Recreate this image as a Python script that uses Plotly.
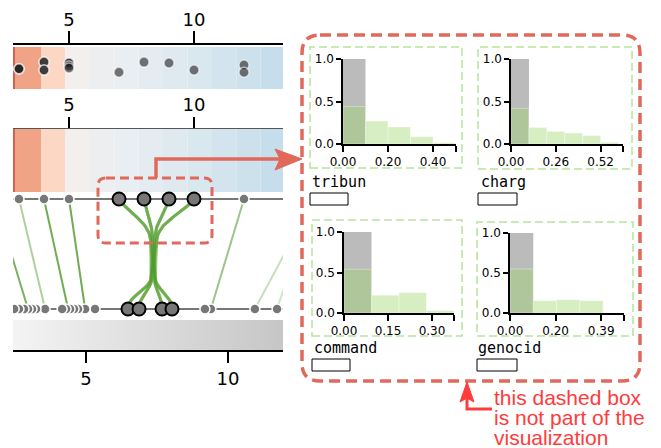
import numpy as np
import plotly.graph_objects as go

W, H = 661, 448

# ------------------------------------------------------------------ data
top_ticks = [5, 10]
bottom_ticks = [5, 10]
top_range = [2.76, 13.56]
bottom_range = [2.43, 11.94]

strip_edges = [2.76, 2.84, 3.88, 4.84, 5.80, 6.82, 7.78, 8.76, 9.74, 10.72, 11.70, 12.66, 13.56]
strip_colors = ['#d6604d', '#f0a385', '#fcd7c4', '#f3efed', '#edeef0', '#e9eef2',
                '#e4ecf1', '#dfe9f0', '#d9e7ef', '#d3e4ee', '#cde1ec', '#c6deeb']

strip_dot_values = [3, 3, 3, 4, 4, 4, 4, 5, 5, 5, 5, 7, 8, 9, 10, 12, 12]
strip_dot_jitter = [0.52, 0.52, 0.52, 0.36, 0.36, 0.55, 0.55, 0.38, 0.38, 0.45, 0.5,
                    0.6, 0.36, 0.38, 0.55, 0.43, 0.6]

top_nodes_small = [3, 4, 5, 12]
top_nodes_sel = [7, 8, 9, 10]
bottom_nodes_small = [2.47, 2.64, 2.82, 2.96, 3.10, 3.24, 3.56, 4.16, 4.30, 4.44, 4.58,
                      4.72, 4.97, 5.32, 9.19, 9.40, 10.95, 11.73]
bottom_nodes_sel = [6.48, 6.87, 7.68, 8.03]

link_top = [2.02, 3, 4, 5, 12, 14.8, 14.8]
link_bottom = [2.96, 3.56, 4.37, 4.97, 9.40, 10.95, 11.73]
link_weight = [0.75, 0.45, 0.8, 0.8, 0.55, 0.3, 0.25]

hist_words = ['tribun', 'charg', 'command', 'genocid']
hist_xmax = [0.50, 0.65, 0.38, 0.49]
hist_edges = [[0, 0.1, 0.2, 0.3, 0.4, 0.5],
              [0, 0.104, 0.208, 0.312, 0.416, 0.52, 0.624],
              [0, 0.095, 0.19, 0.285, 0.38],
              [0, 0.1, 0.2, 0.3, 0.4]]
hist_sel = [[0.44, 0.27, 0.20, 0.086, 0.016],
            [0.42, 0.195, 0.148, 0.129, 0.098, 0.02],
            [0.54, 0.22, 0.25, 0.03],
            [0.55, 0.154, 0.167, 0.154]]
hist_all = [[1.0], [1.0], [1.0], [1.0]]

note_lines = ['this dashed box', 'is not part of the', 'visualization']

# ------------------------------------------------------------------ geometry (px)
L, R = 13, 283
AX1_Y, AX2_Y, AX3_Y = 44, 128, 351
STRIPS = [(47, 89), (129, 192)]
TOP_ROW, BOT_ROW = 199, 309
GRAD = (320, 350)

hist_boxes = [(343, 455.5, 59, 144), (511, 623, 59, 144), (344, 454, 232, 313), (510, 624, 233, 313)]
green_boxes = [(310, 47, 462, 168), (478, 47, 632, 169), (312, 220, 462, 336), (477, 222, 633, 336)]
label_pos = [(310, 182), (479, 182), (312, 348), (476, 348)]
label_rects = [(310, 193, 348, 205), (478, 193, 517, 205), (312, 359, 350, 371), (477, 359, 517, 371)]

RED = '#e0695b'
BRIGHT = '#ff3b3b'
GREEN = (77, 150, 40)


def px(x):
    return x / W


def py(y):
    return 1 - y / H


def b2t(b):
    return top_range[0] + (b - bottom_range[0]) * (top_range[1] - top_range[0]) / (bottom_range[1] - bottom_range[0])


def cubic(p0, p1, p2, p3, n=30):
    t = np.linspace(0, 1, n)[:, None]
    p0, p1, p2, p3 = map(np.array, (p0, p1, p2, p3))
    return (1 - t) ** 3 * p0 + 3 * (1 - t) ** 2 * t * p1 + 3 * (1 - t) * t ** 2 * p2 + t ** 3 * p3


def rrect_path(x0, y0, x1, y1, r):
    P = lambda x, y: f'{px(x):.5f},{py(y):.5f}'
    return (f'M{P(x0 + r, y0)} L{P(x1 - r, y0)} Q{P(x1, y0)} {P(x1, y0 + r)} '
            f'L{P(x1, y1 - r)} Q{P(x1, y1)} {P(x1 - r, y1)} L{P(x0 + r, y1)} '
            f'Q{P(x0, y1)} {P(x0, y1 - r)} L{P(x0, y0 + r)} Q{P(x0, y0)} {P(x0 + r, y0)} Z')


fig = go.Figure()
shapes = []
annotations = []

# colour strips
for (y0, y1) in STRIPS:
    for i, c in enumerate(strip_colors):
        shapes.append(dict(type='rect', xref='x', yref='y', x0=strip_edges[i], x1=strip_edges[i + 1],
                           y0=y0, y1=y1, fillcolor=c, line_width=0, layer='below'))

# grey gradient bar on bottom axis
fig.add_trace(go.Scatter(x=[bottom_range[0], bottom_range[1], bottom_range[1], bottom_range[0], bottom_range[0]],
                         y=[GRAD[0], GRAD[0], GRAD[1], GRAD[1], GRAD[0]], xaxis='x3', yaxis='y',
                         mode='lines', line=dict(width=0), fill='toself',
                         fillgradient=dict(type='horizontal', colorscale=[[0, '#f4f4f4'], [1, '#c6c6c6']]),
                         hoverinfo='skip'))
fig.add_trace(go.Scatter(x=[top_range[0]], y=[-50], xaxis='x2', yaxis='y', mode='markers',
                         marker=dict(opacity=0), hoverinfo='skip'))

# row lines
for yrow in (TOP_ROW, BOT_ROW):
    fig.add_trace(go.Scatter(x=top_range, y=[yrow, yrow], mode='lines', xaxis='x', yaxis='y',
                             line=dict(color='#777777', width=2), hoverinfo='skip'))

# straight links
for t, b, w in zip(link_top, link_bottom, link_weight):
    fig.add_trace(go.Scatter(x=[t, b2t(b)], y=[TOP_ROW, BOT_ROW], mode='lines', xaxis='x', yaxis='y',
                             line=dict(color=f'rgba({GREEN[0]},{GREEN[1]},{GREEN[2]},{w})', width=2),
                             hoverinfo='skip'))

# bundled links
ends = list(top_nodes_sel) + [b2t(b) for b in bottom_nodes_sel]
xc = float(np.mean(ends))
for t in top_nodes_sel:
    for b in bottom_nodes_sel:
        bb = b2t(b)
        xa = xc + 0.08 * (t - xc)
        xb = xc + 0.08 * (bb - xc)
        s1 = cubic((t, TOP_ROW), (t + 0.3 * (xa - t), 214), (xa, 222), (xa, 242))
        s2 = np.array([[xb, 276]])
        s3 = cubic((xb, 276), (xb, 290), (bb, 294), (bb, BOT_ROW))
        pts = np.vstack([s1, s2, s3])
        fig.add_trace(go.Scatter(x=pts[:, 0], y=pts[:, 1], mode='lines', xaxis='x', yaxis='y',
                                 line=dict(color='rgba(80,155,40,0.34)', width=3), hoverinfo='skip'))

# nodes
fig.add_trace(go.Scatter(x=top_nodes_small, y=[TOP_ROW] * len(top_nodes_small), mode='markers',
                         xaxis='x', yaxis='y',
                         marker=dict(size=10, color='#777777', line=dict(color='white', width=1.5))))
fig.add_trace(go.Scatter(x=top_nodes_sel, y=[TOP_ROW] * len(top_nodes_sel), mode='markers',
                         xaxis='x', yaxis='y',
                         marker=dict(size=13, color='#777777', line=dict(color='black', width=2))))
bs = sorted(bottom_nodes_small, reverse=True)
fig.add_trace(go.Scatter(x=bs, y=[BOT_ROW] * len(bs), mode='markers', xaxis='x3', yaxis='y',
                         marker=dict(size=10, color='#777777', line=dict(color='white', width=1.5))))
fig.add_trace(go.Scatter(x=bottom_nodes_sel, y=[BOT_ROW] * len(bottom_nodes_sel), mode='markers',
                         xaxis='x3', yaxis='y',
                         marker=dict(size=13, color='#777777', line=dict(color='black', width=2))))

# strip dots
s0, s1_ = STRIPS[0]
fig.add_trace(go.Scatter(x=strip_dot_values, y=[s0 + j * (s1_ - s0) for j in strip_dot_jitter],
                         mode='markers', xaxis='x', yaxis='y',
                         marker=dict(size=10, color='rgba(30,30,30,0.6)',
                                     line=dict(color='rgba(255,255,255,0.6)', width=1.5))))

# histograms
tickfont_small = dict(family='DejaVu Sans', size=12, color='black')
layout_axes = {}
for k in range(4):
    n = k + 4
    xa, ya = f'x{n}', f'y{n}'
    x0, x1, y0, y1 = hist_boxes[k]
    e = hist_edges[k]
    m = hist_xmax[k]
    centers = [(e[i] + e[i + 1]) / 2 for i in range(len(e) - 1)]
    widths = [e[i + 1] - e[i] for i in range(len(e) - 1)]
    na = len(hist_all[k])
    fig.add_trace(go.Bar(x=centers[:na], y=hist_all[k], width=widths[:na], xaxis=xa, yaxis=ya,
                         marker=dict(color='#bbbbbb', line=dict(width=0))))
    fig.add_trace(go.Bar(x=centers, y=hist_sel[k], width=widths, xaxis=xa, yaxis=ya,
                         marker=dict(color='rgba(160,215,110,0.42)', line=dict(width=0.6, color='rgba(255,255,255,0.6)'))))
    tv = [0, 0.4 * m, 0.8 * m, m]
    layout_axes[f'xaxis{n}'] = dict(domain=[px(x0), px(x1)], range=[0, m], anchor=ya, automargin=False,
                                    tickvals=tv, ticktext=[f'{v:.2f}' for v in tv[:3]] + [''],
                                    ticks='outside', ticklen=6, tickwidth=1.5, tickcolor='black',
                                    showline=True, linecolor='black', linewidth=1.5,
                                    showgrid=False, zeroline=False, tickfont=tickfont_small)
    layout_axes[f'yaxis{n}'] = dict(domain=[py(y1), py(y0)], range=[0, 1], anchor=xa, automargin=False,
                                    tickvals=[0, 0.5, 1], ticktext=['0.0', '0.5', '1.0'],
                                    ticks='outside', ticklen=5, tickwidth=1.5, tickcolor='black',
                                    showline=True, linecolor='black', linewidth=1.5,
                                    showgrid=False, zeroline=False, tickfont=tickfont_small)
    gx0, gy0, gx1, gy1 = green_boxes[k]
    shapes.append(dict(type='rect', xref='paper', yref='paper', x0=px(gx0), x1=px(gx1), y0=py(gy1), y1=py(gy0),
                       line=dict(color='#b6e39b', width=1.5, dash='8px,4px')))
    rx0, ry0, rx1, ry1 = label_rects[k]
    shapes.append(dict(type='rect', xref='paper', yref='paper', x0=px(rx0), x1=px(rx1), y0=py(ry1), y1=py(ry0),
                       line=dict(color='black', width=1), fillcolor='white'))
    lx, ly = label_pos[k]
    annotations.append(dict(text=hist_words[k], xref='paper', yref='paper', x=px(lx), y=py(ly),
                            xanchor='left', yanchor='middle', showarrow=False,
                            font=dict(family='DejaVu Sans Mono', size=15, color='black')))

# red annotation shapes (not part of the visualisation)
shapes.append(dict(type='path', xref='paper', yref='paper', path=rrect_path(302, 35, 640, 381, 18),
                   line=dict(color=RED, width=3.5, dash='11px,6px')))
shapes.append(dict(type='path', xref='paper', yref='paper', path=rrect_path(98, 178, 212, 243, 8),
                   line=dict(color=RED, width=3, dash='9px,5px')))
shapes.append(dict(type='path', xref='paper', yref='paper',
                   path=f'M{px(156)},{py(178)} L{px(156)},{py(159)} L{px(280)},{py(159)}',
                   line=dict(color=RED, width=3.5)))
shapes.append(dict(type='path', xref='paper', yref='paper',
                   path=f'M{px(275)},{py(149)} L{px(302)},{py(159)} L{px(275)},{py(170)} L{px(280)},{py(159)} Z',
                   line=dict(color=RED, width=1), fillcolor=RED))
shapes.append(dict(type='path', xref='paper', yref='paper',
                   path=f'M{px(467)},{py(398)} L{px(467)},{py(409)} L{px(492)},{py(409)}',
                   line=dict(color=BRIGHT, width=3)))
shapes.append(dict(type='path', xref='paper', yref='paper',
                   path=f'M{px(460)},{py(402)} L{px(467)},{py(382)} L{px(474)},{py(402)} L{px(467)},{py(398)} Z',
                   line=dict(color=BRIGHT, width=1), fillcolor=BRIGHT))
for i, line in enumerate(note_lines):
    annotations.append(dict(text=line, xref='paper', yref='paper', x=px(492), y=py(397 + 20 * i),
                            xanchor='left', yanchor='middle', showarrow=False,
                            font=dict(family='Liberation Sans', size=21, color=BRIGHT)))

axis_font = dict(family='DejaVu Sans', size=18, color='black')
fig.update_layout(
    width=W, height=H, margin=dict(l=0, r=0, t=0, b=0, pad=0, autoexpand=False),
    paper_bgcolor='white', plot_bgcolor='white', showlegend=False, barmode='overlay',
    xaxis=dict(domain=[px(L), px(R)], range=top_range, anchor='free', position=py(AX1_Y), side='top',
               automargin=False, ticklabelstandoff=-2,
               tickvals=top_ticks, ticks='outside', ticklen=12, tickwidth=2, tickcolor='black',
               showline=True, linecolor='black', linewidth=2, showgrid=False, zeroline=False,
               tickfont=axis_font),
    xaxis2=dict(overlaying='x', range=top_range, anchor='free', position=py(AX2_Y), side='top',
                automargin=False, ticklabelstandoff=-1,
                tickvals=top_ticks, ticks='outside', ticklen=11, tickwidth=2, tickcolor='black',
                showline=True, linecolor='#555555', linewidth=1, showgrid=False, zeroline=False,
                tickfont=axis_font),
    xaxis3=dict(overlaying='x', range=bottom_range, anchor='free', position=py(AX3_Y), side='bottom',
                automargin=False,
                tickvals=bottom_ticks, ticks='outside', ticklen=11, tickwidth=2, tickcolor='black',
                showline=True, linecolor='black', linewidth=2, showgrid=False, zeroline=False,
                tickfont=axis_font),
    yaxis=dict(domain=[0, 1], range=[H, 0], visible=False, anchor='free', position=0, automargin=False),
    shapes=shapes, annotations=annotations,
    **layout_axes,
)

fig.write_html('out.html', config={'displayModeBar': False},
               post_script="document.body.style.margin='0';")
